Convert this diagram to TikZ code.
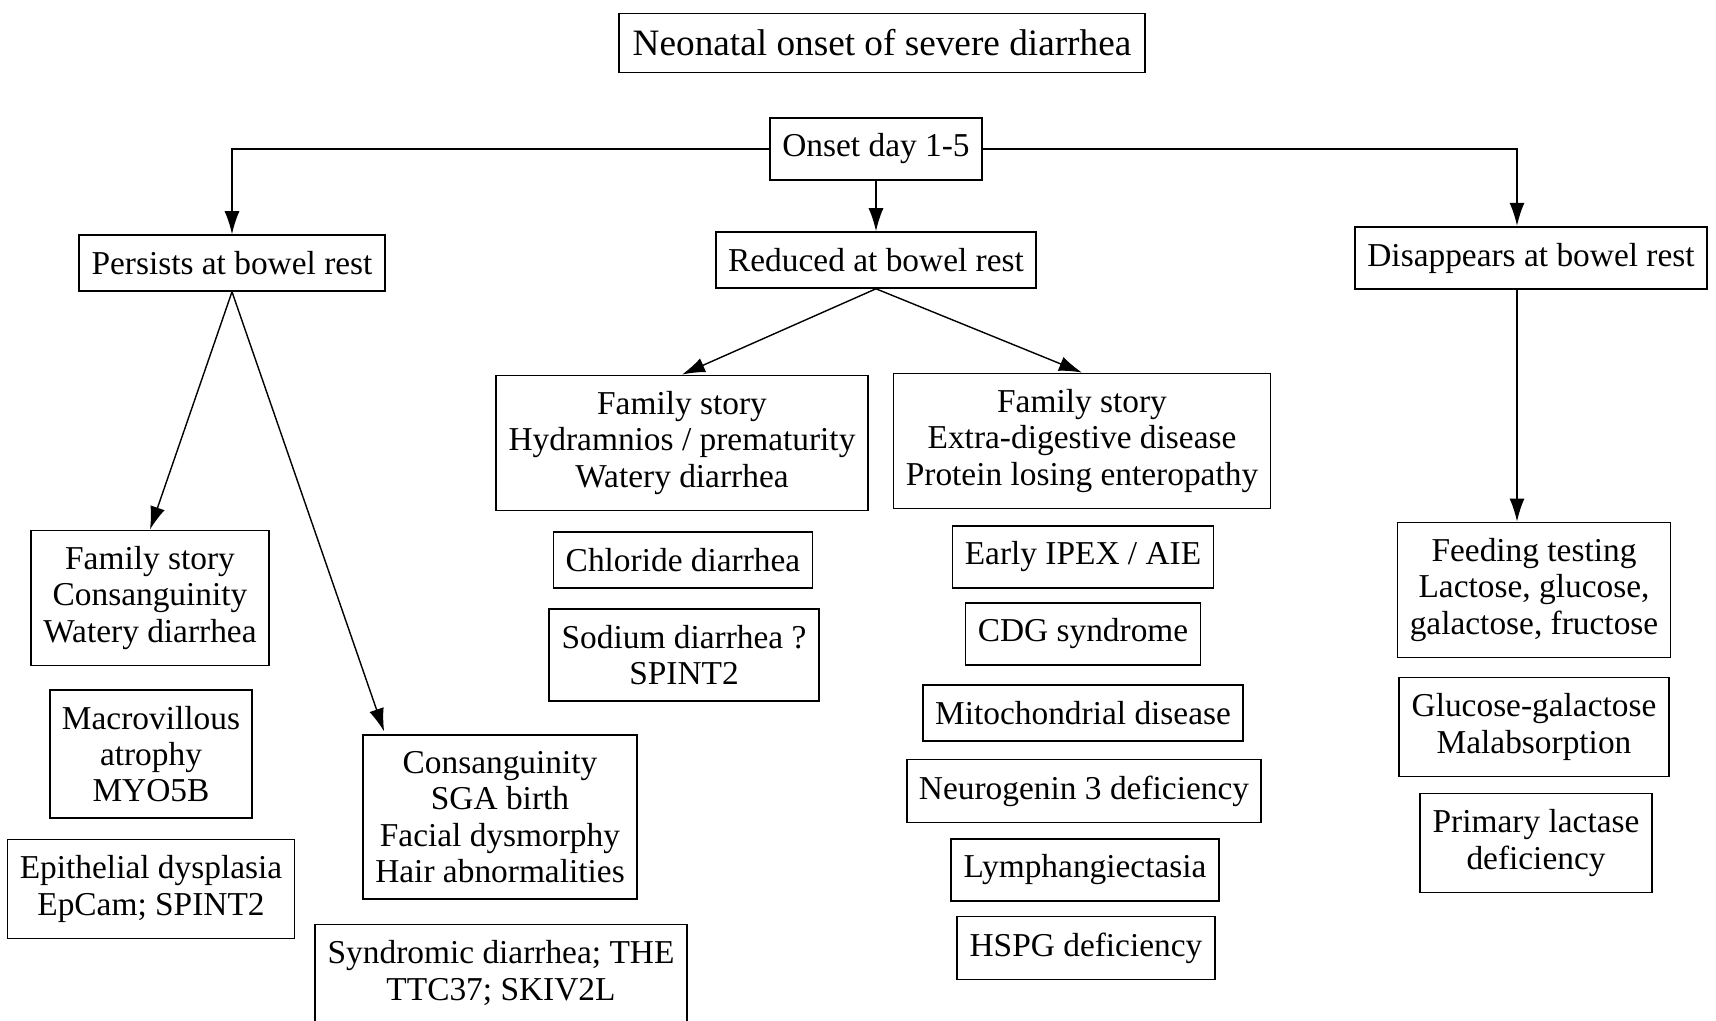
\documentclass[tikz,border=0pt]{standalone}
\usepackage{fontspec}
\setmainfont{Liberation Serif}
\usetikzlibrary{arrows.meta,calc}

\begin{document}
\begin{tikzpicture}[x=0.1mm,y=-0.1mm,
    box/.style={draw,line width=0.5pt,align=center,inner xsep=3.5pt,inner ysep=4.6pt,
        font=\fontsize{9.5}{10.3}\selectfont},
    arr/.style={line width=0.4pt,-{Latex[length=2.3mm,width=1.5mm]}}]
    \useasboundingbox (0,0) rectangle (1716,1021);
    \node[box,font=\fontsize{10.6}{12}\selectfont,inner xsep=4pt] (title) at (882,43) {Neonatal onset of severe diarrhea};
    \node[box] (onset) at (876,149) {Onset day 1-5};
    % second level
    \node[box] (per) at (232,263) {Persists at bowel rest};
    \node[box] (red) at (876,260) {Reduced at bowel rest};
    \node[box] (dis) at (1531,258) {Disappears at bowel rest};
    % persists
    \node[box] (faml) at (150,598) {Family story\\Consanguinity\\Watery diarrhea};
    \node[box] (macro) at (151,754) {Macrovillous\\atrophy\\MYO5B};
    \node[box] (epi) at (151,889) {Epithelial dysplasia\\EpCam; SPINT2};
    \node[box] (con) at (500,817) {Consanguinity\\SGA birth\\Facial dysmorphy\\Hair abnormalities};
    \node[box] (synd) at (501,973) {Syndromic diarrhea; THE\\TTC37; SKIV2L};
    % reduced
    \node[box] (hyd) at (682,443) {Family story\\Hydramnios / prematurity\\Watery diarrhea};
    \node[box] (chl) at (683,560) {Chloride diarrhea};
    \node[box] (sod) at (684,655) {Sodium diarrhea ?\\SPINT2};
    \node[box] (ext) at (1082,441) {Family story\\Extra-digestive disease\\Protein losing enteropathy};
    \node[box] (ipex) at (1083,557) {Early IPEX / AIE};
    \node[box] (cdg) at (1083,634) {CDG syndrome};
    \node[box] (mito) at (1083,713) {Mitochondrial disease};
    \node[box] (neuro) at (1084,791) {Neurogenin 3 deficiency};
    \node[box] (lymph) at (1085,870) {Lymphangiectasia};
    \node[box] (hspg) at (1086,948) {HSPG deficiency};
    % disappears
    \node[box] (feed) at (1534,590) {Feeding testing\\Lactose, glucose,\\galactose, fructose};
    \node[box] (glu) at (1534,727) {Glucose-galactose\\Malabsorption};
    \node[box] (lac) at (1536,843) {Primary lactase\\deficiency};
    \coordinate (drop) at (1517,0);
    % connectors
    \draw[arr] (onset.west) -| (per.north);
    \draw[arr] (onset.east) -| (dis.north -| drop);
    \draw[arr] (onset.south) -- (red.north);
    \draw[arr] (red.south) -- (hyd.north);
    \draw[arr] (red.south) -- (ext.north);
    \draw[arr] (per.south) -- (faml.north);
    \draw[arr] (per.south) -- ($(con.north west)+(22,-3)$);
    \draw[arr] (dis.south -| drop) -- (feed.north -| drop);
\end{tikzpicture}
\end{document}
